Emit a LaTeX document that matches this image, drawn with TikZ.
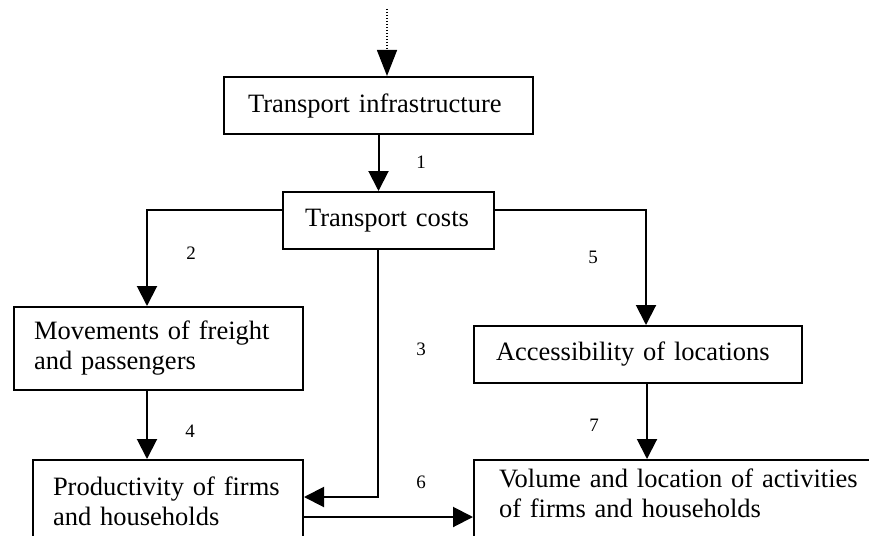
\documentclass[tikz,border=0pt]{standalone}
\usepackage{fontspec}
\setmainfont{Liberation Serif}
\usetikzlibrary{arrows.meta}

\tikzset{
	box/.style={draw, line width=2pt, anchor=north west, align=left, inner ysep=0pt,
		font=\fontsize{26.5}{30}\selectfont},
	num/.style={font=\fontsize{19}{22}\selectfont, inner sep=0pt},
	link/.style={line width=2pt, -{Triangle[width=20pt,length=20pt]}},
}

\begin{document}
\begin{tikzpicture}[x=1pt, y=-1pt]
	\useasboundingbox (0,0) rectangle (869,535);
	% boxes
	\node[box, inner xsep=24pt, text width=261pt, minimum height=57pt] (infra) at (223,76) {Transport infrastructure};
	\node[box, inner xsep=22pt, text width=167pt, minimum height=57pt] (costs) at (282,191) {Transport costs};
	\node[box, inner xsep=20pt, text width=249pt, minimum height=83pt] (moves) at (13,306) {Movements of freight\\and passengers};
	\node[box, inner xsep=22pt, text width=284pt, minimum height=57pt] (access) at (473,325) {Accessibility of locations};
	\node[box, inner xsep=20pt, text width=230pt, minimum height=83pt] (prod) at (32,459) {Productivity of firms\\and households};
	\node[box, inner xsep=25pt, text width=370pt, minimum height=79pt] (volume) at (473,459) {Volume and location of activities\\of firms and households\rule[-12pt]{0pt}{12pt}};
	\coordinate (src) at (387,9);
	% connectors
	\draw[line width=1.5pt, dash pattern=on 1.5pt off 1.5pt, -{Triangle[width=20pt,length=26pt]}] (src) -- (src |- infra.north);
	\draw[link] (infra.south) -- (infra.south |- costs.north);
	\draw[link] ([yshift=-19pt]costs.north west) -| ([xshift=134pt]moves.north west);
	\draw[link] ([yshift=-19pt]costs.north east) -| ([xshift=173pt]access.north west);
	\draw[link] ([xshift=96pt]costs.south west) |- ([yshift=-38pt]prod.north east);
	\draw[link] ([xshift=134pt]moves.south west) -- ([xshift=134pt]moves.south west |- prod.north);
	\draw[link] ([xshift=174pt]access.south west) -- ([xshift=174pt]access.south west |- volume.north);
	\draw[link] ([yshift=-58pt]prod.north east) -- ([yshift=-58pt]prod.north east -| volume.west);
	% numbers
	\node[num] (n1) at (421,162) {1};
	\node[num] (n2) at (191,253) {2};
	\node[num] (n3) at (421,349) {3};
	\node[num] (n4) at (190,431) {4};
	\node[num] (n5) at (593,257) {5};
	\node[num] (n6) at (421,482) {6};
	\node[num] (n7) at (594,425) {7};
\end{tikzpicture}
\end{document}
